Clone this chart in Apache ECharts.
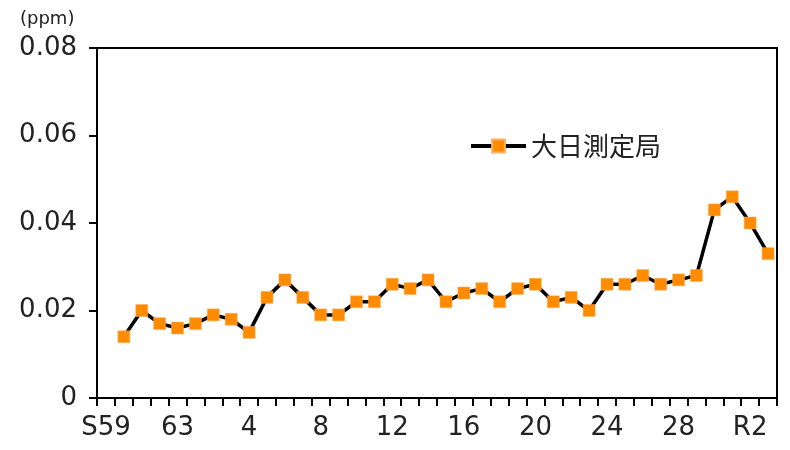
<!DOCTYPE html>
<html>
<head>
<meta charset="utf-8">
<script src="https://cdn.jsdelivr.net/npm/echarts@6/dist/echarts.min.js"></script>
<style>
html, body { margin: 0; padding: 0; background: #fff; }
#main { width: 790px; height: 450px; }
</style>
</head>
<body>
<div id="main"></div>
<script>
// 年度（S59〜R3）
var years = ['S59', '60', '61', '62', '63',
	'1', '2', '3', '4', '5', '6', '7', '8', '9', '10',
	'11', '12', '13', '14', '15', '16', '17', '18', '19', '20',
	'21', '22', '23', '24', '25', '26', '27', '28', '29', '30',
	'R1', 'R2', 'R3'];

// 大日測定局 (ppm)
var daiNichi = [null, 0.014, 0.020, 0.017, 0.016,
	0.017, 0.019, 0.018, 0.015, 0.023, 0.027, 0.023, 0.019, 0.019, 0.022,
	0.022, 0.026, 0.025, 0.027, 0.022, 0.024, 0.025, 0.022, 0.025, 0.026,
	0.022, 0.023, 0.020, 0.026, 0.026, 0.028, 0.026, 0.027, 0.028, 0.043,
	0.046, 0.040, 0.033];

var yTicks = [0, 0.02, 0.04, 0.06, 0.08];

var myChart = echarts.init(document.getElementById('main'));
var numFont = '"DejaVu Sans", sans-serif';
var cjkFont = '"Noto Sans CJK JP", sans-serif';

option = {
	animation: false,
	title: {
		text: '(ppm)',
		left: 15,
		top: 5,
		textStyle: { fontSize: 18, fontWeight: 'normal', color: '#222', fontFamily: numFont }
	},
	legend: {
		left: 464,
		top: 128,
		itemWidth: 55,
		itemHeight: 16,
		itemGap: 4,
		lineStyle: { width: 4 },
		textStyle: { fontSize: 26, color: '#222', fontFamily: cjkFont },
		data: ['大日測定局']
	},
	grid: {
		left: 97,
		right: 13,
		top: 48,
		bottom: 52,
		show: true,
		borderColor: '#000',
		borderWidth: 2
	},
	xAxis: {
		type: 'category',
		data: years,
		boundaryGap: true,
		axisLine: { lineStyle: { color: '#000', width: 2 } },
		axisTick: { show: true, interval: 0, length: 8, lineStyle: { color: '#000', width: 2 } },
		axisLabel: { interval: 3, fontSize: 26, color: '#222', margin: 17, fontFamily: numFont },
		splitLine: { show: false }
	},
	yAxis: {
		type: 'value',
		min: yTicks[0],
		max: yTicks[yTicks.length - 1],
		interval: 0.02,
		axisLine: { show: true, lineStyle: { color: '#000', width: 2 } },
		axisTick: { show: true, length: 8, lineStyle: { color: '#000', width: 2 } },
		axisLabel: {
			fontSize: 26, color: '#222', margin: 20, fontFamily: numFont,
			formatter: function (v) { return v === 0 ? '0' : v.toFixed(2); }
		},
		splitLine: { show: false }
	},
	series: [{
		name: '大日測定局',
		type: 'line',
		data: daiNichi,
		symbol: 'rect',
		symbolSize: 12,
		showAllSymbol: true,
		lineStyle: { color: '#000', width: 3.5 },
		itemStyle: { color: '#ff8c00', borderColor: '#ffb060', borderWidth: 0.5 }
	}]
};

myChart.setOption(option);
</script>
</body>
</html>
